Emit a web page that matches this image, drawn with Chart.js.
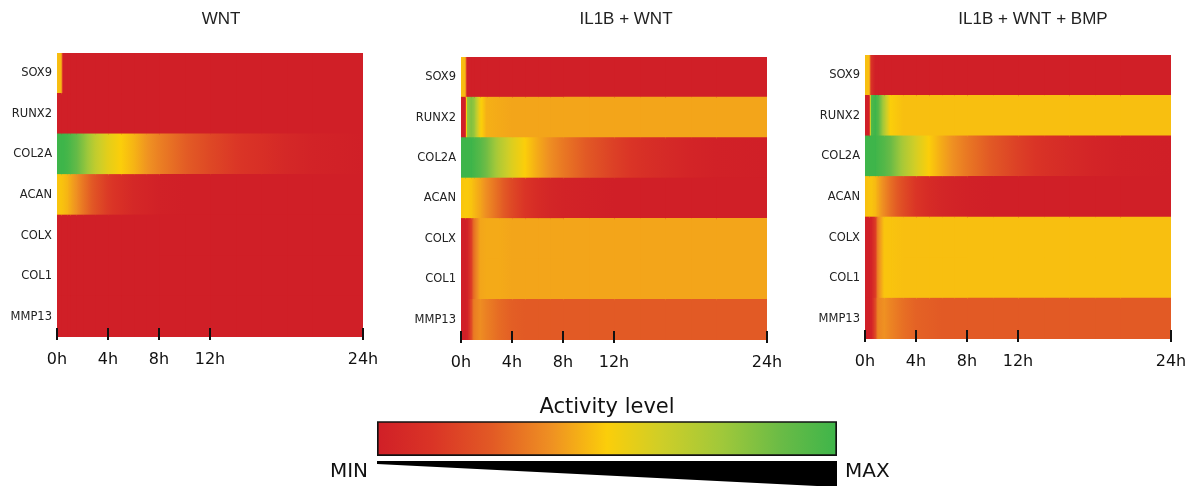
<!DOCTYPE html>
<html>
<head>
<meta charset="utf-8">
<title>Activity level heatmaps</title>
<script src="https://cdn.jsdelivr.net/npm/chart.js"></script>
<style>
  html, body { margin: 0; padding: 0; background: #fff; overflow: hidden; }
  body { width: 1186px; height: 486px; position: relative; }
  canvas { position: absolute; }
</style>
</head>
<body>
<canvas id="p1"></canvas>
<canvas id="p2"></canvas>
<canvas id="p3"></canvas>
<canvas id="bar"></canvas>
<script>
const hours = [0, 0.3, 0.5, 0.8, 1, 1.5, 2, 3, 4, 5, 6, 7, 8, 10, 12, 14, 16, 18, 20, 24];
const tickHours = [0, 4, 8, 12, 24];
const genes = ['SOX9', 'RUNX2', 'COL2A', 'ACAN', 'COLX', 'COL1', 'MMP13'];
const panelTitles = ['WNT', 'IL1B + WNT', 'IL1B + WNT + BMP'];

// activity level 0 (MIN) .. 1 (MAX), one row per gene, one value per hour above
const wnt = [
  [0.47, 0.46, 0, 0, 0, 0, 0, 0, 0, 0, 0, 0, 0, 0, 0, 0, 0, 0, 0, 0],
  [0, 0, 0, 0, 0, 0, 0, 0, 0, 0, 0, 0, 0, 0, 0, 0, 0, 0, 0, 0],
  [1, 1, 1, 0.98, 0.96, 0.9, 0.82, 0.66, 0.56, 0.5, 0.45, 0.39, 0.34, 0.26, 0.19, 0.13, 0.09, 0.05, 0.02, 0],
  [0.48, 0.48, 0.47, 0.45, 0.43, 0.38, 0.32, 0.22, 0.14, 0.09, 0.05, 0.03, 0.01, 0, 0, 0, 0, 0, 0, 0],
  [0, 0, 0, 0, 0, 0, 0, 0, 0, 0, 0, 0, 0, 0, 0, 0, 0, 0, 0, 0],
  [0, 0, 0, 0, 0, 0, 0, 0, 0, 0, 0, 0, 0, 0, 0, 0, 0, 0, 0, 0],
  [0, 0, 0, 0, 0, 0, 0, 0, 0, 0, 0, 0, 0, 0, 0, 0, 0, 0, 0, 0]
];
const il1bWnt = [
  [0.47, 0.46, 0, 0, 0, 0, 0, 0, 0, 0, 0, 0, 0, 0, 0, 0, 0, 0, 0, 0],
  [0, 0, 0.78, 0.82, 0.78, 0.52, 0.44, 0.43, 0.42, 0.42, 0.42, 0.42, 0.42, 0.42, 0.42, 0.42, 0.42, 0.42, 0.42, 0.42],
  [1, 1, 1, 1, 0.98, 0.93, 0.86, 0.7, 0.58, 0.5, 0.43, 0.37, 0.32, 0.24, 0.16, 0.1, 0.06, 0.03, 0.01, 0],
  [0.48, 0.49, 0.49, 0.48, 0.46, 0.42, 0.37, 0.28, 0.19, 0.12, 0.07, 0.04, 0.02, 0.01, 0, 0, 0, 0, 0, 0],
  [0, 0, 0.02, 0.15, 0.3, 0.42, 0.43, 0.43, 0.42, 0.42, 0.42, 0.42, 0.42, 0.42, 0.42, 0.42, 0.42, 0.42, 0.42, 0.42],
  [0, 0, 0.02, 0.15, 0.3, 0.42, 0.43, 0.43, 0.42, 0.42, 0.42, 0.42, 0.42, 0.42, 0.42, 0.42, 0.42, 0.42, 0.42, 0.42],
  [0, 0, 0.02, 0.2, 0.33, 0.37, 0.34, 0.29, 0.26, 0.25, 0.25, 0.25, 0.25, 0.25, 0.25, 0.25, 0.25, 0.25, 0.25, 0.25]
];
const il1bWntBmp = [
  [0.47, 0.47, 0.1, 0, 0, 0, 0, 0, 0, 0, 0, 0, 0, 0, 0, 0, 0, 0, 0, 0],
  [0, 0, 0.95, 1, 0.95, 0.7, 0.5, 0.47, 0.47, 0.47, 0.47, 0.47, 0.47, 0.47, 0.47, 0.47, 0.47, 0.47, 0.47, 0.47],
  [1, 1, 1, 1, 0.98, 0.94, 0.88, 0.72, 0.6, 0.5, 0.43, 0.37, 0.32, 0.24, 0.16, 0.1, 0.06, 0.03, 0.01, 0],
  [0.47, 0.48, 0.48, 0.46, 0.43, 0.36, 0.3, 0.2, 0.12, 0.07, 0.04, 0.02, 0.01, 0, 0, 0, 0, 0, 0, 0],
  [0, 0, 0.02, 0.15, 0.35, 0.48, 0.48, 0.47, 0.47, 0.47, 0.47, 0.47, 0.47, 0.47, 0.47, 0.47, 0.47, 0.47, 0.47, 0.47],
  [0, 0, 0.02, 0.15, 0.35, 0.48, 0.48, 0.47, 0.47, 0.47, 0.47, 0.47, 0.47, 0.47, 0.47, 0.47, 0.47, 0.47, 0.47, 0.47],
  [0, 0, 0.02, 0.2, 0.35, 0.38, 0.35, 0.3, 0.27, 0.26, 0.25, 0.25, 0.25, 0.25, 0.25, 0.25, 0.25, 0.25, 0.25, 0.25]
];

// colour scale red -> orange -> yellow -> green
const cmapStops = [0, 0.12, 0.25, 0.38, 0.5, 0.62, 0.75, 0.88, 1];
const cmapColors = [
  [208, 31, 39], [218, 52, 38], [226, 90, 37], [239, 145, 34], [251, 206, 10],
  [206, 206, 40], [160, 200, 58], [105, 187, 70], [62, 181, 74]
];

function cmap(v) {
  v = Math.max(0, Math.min(1, v));
  let i = 0;
  while (i < cmapStops.length - 2 && v > cmapStops[i + 1]) i++;
  const t = (v - cmapStops[i]) / (cmapStops[i + 1] - cmapStops[i]);
  const a = cmapColors[i], b = cmapColors[i + 1];
  const c = a.map((x, k) => Math.round(x + (b[k] - x) * t));
  return 'rgb(' + c.join(',') + ')';
}

// shade one cell from the value at its left hour to the value at its right hour
function cellFill(ctx, rows, seg) {
  if (ctx.type !== 'data') return cmap(0);
  const chart = ctx.chart, x = chart.scales.x;
  const v0 = rows[ctx.dataIndex][seg], v1 = rows[ctx.dataIndex][seg + 1];
  if (!x || !chart.chartArea || v0 === v1) return cmap(v0);
  const x0 = x.getPixelForValue(hours[seg]), x1 = x.getPixelForValue(hours[seg + 1]);
  if (!isFinite(x0) || !isFinite(x1) || x1 <= x0) return cmap(v0);
  const g = chart.ctx.createLinearGradient(x0, 0, x1, 0);
  g.addColorStop(0, cmap(v0));
  cmapStops.forEach(s => {
    const f = (s - v0) / (v1 - v0);
    if (f > 0 && f < 1) g.addColorStop(f, cmap(s));
  });
  g.addColorStop(1, cmap(v1));
  return g;
}

const tickMarks = {
  id: 'tickMarks',
  afterDraw(chart) {
    const { ctx, chartArea, scales: { x } } = chart;
    ctx.save();
    ctx.strokeStyle = '#111';
    ctx.lineWidth = 2;
    tickHours.forEach(h => {
      const px = Math.round(x.getPixelForValue(h));
      ctx.beginPath();
      ctx.moveTo(px, chartArea.bottom - 9);
      ctx.lineTo(px, chartArea.bottom + 3);
      ctx.stroke();
    });
    ctx.restore();
  }
};

function makeHeatmap(id, title, rows, box) {
  const canvas = document.getElementById(id);
  canvas.width = box.width;
  canvas.height = box.height;
  canvas.style.left = box.left + 'px';
  canvas.style.top = '0px';

  const datasets = hours.slice(0, -1).map((h, i) => ({
    data: genes.map(() => [hours[i], hours[i + 1]]),
    backgroundColor: ctx => cellFill(ctx, rows, i),
    borderWidth: 0,
    inflateAmount: 0.6,
    barPercentage: 1,
    categoryPercentage: 1,
    grouped: false
  }));

  return new Chart(canvas, {
    type: 'bar',
    data: { labels: genes, datasets: datasets },
    options: {
      indexAxis: 'y',
      responsive: false,
      animation: false,
      events: [],
      layout: { padding: 0 },
      plugins: {
        legend: { display: false },
        tooltip: { enabled: false },
        title: {
          display: true,
          text: title,
          color: '#222',
          font: { family: 'Liberation Sans', size: 17, weight: 'normal' },
          padding: { top: 9, bottom: box.titleBottom }
        }
      },
      scales: {
        x: {
          type: 'linear',
          min: 0,
          max: 24,
          grid: { display: false, drawTicks: false },
          border: { display: false },
          afterBuildTicks: s => { s.ticks = tickHours.map(v => ({ value: v })); },
          afterFit: s => { s.height = 40; s.paddingLeft = 0; s.paddingRight = 0; },
          ticks: {
            padding: 13,
            color: '#111',
            autoSkip: false,
            maxRotation: 0,
            font: { family: 'DejaVu Sans', size: 16 },
            callback: v => v + 'h'
          }
        },
        y: {
          type: 'category',
          grid: { display: false, drawTicks: false },
          border: { display: box.edge, color: 'rgba(70,70,70,0.7)', width: 1 },
          afterFit: s => { s.width = box.axisW; s.paddingTop = 0; s.paddingBottom = 0; },
          ticks: { padding: 5, color: '#222', font: { family: 'DejaVu Sans', size: 11.5 } }
        },
        // empty space on the right so the title sits where it does in the figure
        spacer: {
          type: 'linear',
          position: 'right',
          display: true,
          grid: { display: false, drawTicks: false },
          border: { display: false },
          ticks: { display: false },
          afterFit: s => { s.width = box.rightW; s.paddingTop = 0; s.paddingBottom = 0; }
        }
      }
    },
    plugins: [tickMarks]
  });
}

makeHeatmap('p1', panelTitles[0], wnt,
  { left: 0, width: 442, height: 377, axisW: 57, rightW: 79, titleBottom: 23.6, edge: false });
makeHeatmap('p2', panelTitles[1], il1bWnt,
  { left: 405, width: 442, height: 380, axisW: 56, rightW: 80, titleBottom: 27.6, edge: true });
makeHeatmap('p3', panelTitles[2], il1bWntBmp,
  { left: 809, width: 448, height: 379, axisW: 56, rightW: 86, titleBottom: 25.6, edge: true });

// colour bar legend
const wedge = {
  id: 'wedge',
  afterDraw(chart) {
    const { ctx, chartArea: a, scales: { x } } = chart;
    const l = x.getPixelForValue(0), r = x.getPixelForValue(1);
    const top = a.bottom + 5;
    ctx.save();
    ctx.fillStyle = '#000';
    ctx.beginPath();
    ctx.moveTo(l, top);
    ctx.lineTo(r, top);
    ctx.lineTo(r, a.bottom + 31);
    ctx.lineTo(l, top + 3);
    ctx.closePath();
    ctx.fill();
    ctx.fillStyle = '#111';
    ctx.font = '20px "DejaVu Sans"';
    ctx.textBaseline = 'alphabetic';
    ctx.textAlign = 'right';
    ctx.fillText('MIN', l - 9, a.bottom + 21);
    ctx.textAlign = 'left';
    ctx.fillText('MAX', r + 8, a.bottom + 21);
    ctx.restore();
  }
};

const barCanvas = document.getElementById('bar');
barCanvas.width = 620;
barCanvas.height = 101;
barCanvas.style.left = '300px';
barCanvas.style.top = '385px';

new Chart(barCanvas, {
  type: 'bar',
  data: {
    labels: ['Activity level'],
    datasets: [{
      data: [[0, 1]],
      backgroundColor: ctx => {
        const chart = ctx.chart, x = chart.scales.x;
        if (!x || !chart.chartArea) return cmap(0.5);
        const x0 = x.getPixelForValue(0), x1 = x.getPixelForValue(1);
        if (!isFinite(x0) || !isFinite(x1)) return cmap(0.5);
        const g = chart.ctx.createLinearGradient(x0, 0, x1, 0);
        cmapStops.forEach(s => g.addColorStop(s, cmap(s)));
        return g;
      },
      borderColor: '#111',
      borderWidth: 2,
      borderSkipped: false,
      barPercentage: 1,
      categoryPercentage: 1
    }]
  },
  options: {
    indexAxis: 'y',
    responsive: false,
    animation: false,
    events: [],
    layout: { padding: { left: 77, right: 83, top: 0, bottom: 30 } },
    plugins: {
      legend: { display: false },
      tooltip: { enabled: false },
      title: {
        display: true,
        text: 'Activity level',
        color: '#111',
        font: { family: 'DejaVu Sans', size: 21, weight: 'normal' },
        padding: { top: 10, bottom: 1 }
      }
    },
    scales: {
      x: { type: 'linear', min: 0, max: 1, display: false },
      y: { display: false }
    }
  },
  plugins: [wedge]
});
</script>
</body>
</html>
